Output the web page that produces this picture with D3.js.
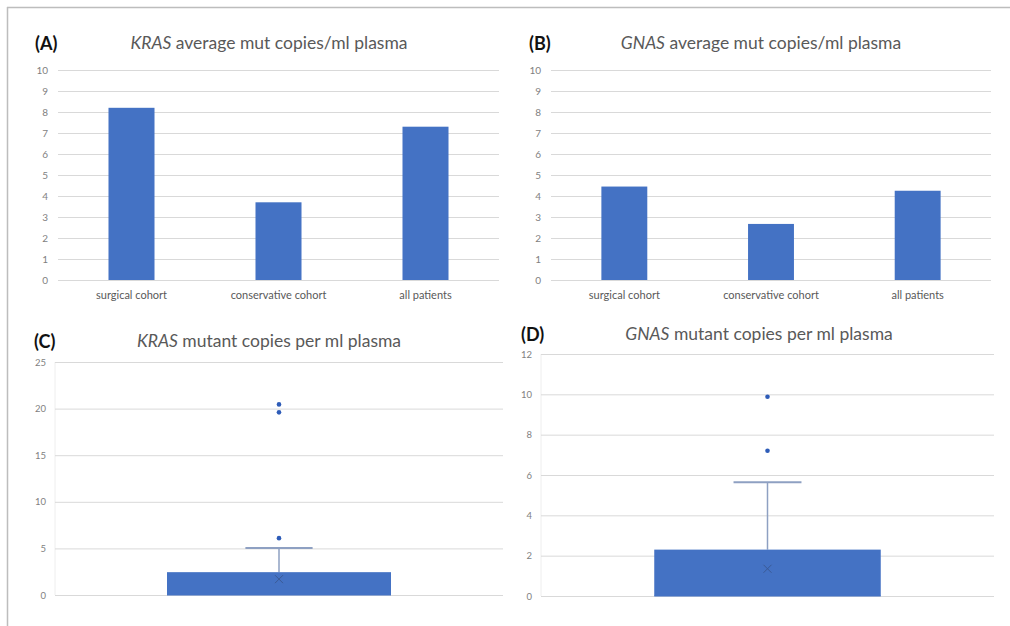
<!DOCTYPE html>
<html><head><meta charset="utf-8">
<script src="https://cdn.jsdelivr.net/npm/d3@7/dist/d3.min.js"></script>
<style>
html,body{margin:0;padding:0;background:#fff;}
svg{display:block;}
text{font-family:Lato,"Open Sans",sans-serif;}
</style></head><body>
<svg id="chart" width="1010" height="626"></svg>
<script>
// ---- data ----
const categories = ["surgical cohort", "conservative cohort", "all patients"];
const krasAverage = [8.2, 3.7, 7.3];
const gnasAverage = [4.45, 2.67, 4.25];
const barTicks = [0,1,2,3,4,5,6,7,8,9,10];

// box plots: [min, q1, median, q3, max whisker], mean, outliers
const krasBox = [0, 0, 0, 2.45, 5.05];
const krasMean = 1.7;
const krasOutliers = [6.1, 19.6, 20.45];
const krasTicks = [0,5,10,15,20,25];

const gnasBox = [0, 0, 0, 2.3, 5.64];
const gnasMean = 1.35;
const gnasOutliers = [7.2, 9.88];
const gnasTicks = [0,2,4,6,8,10,12];

const svg = d3.select("#chart");
const BLUE = "#4472c4";

// frame
svg.append("line").attr("x1",7).attr("x2",1010).attr("y1",7.5).attr("y2",7.5).attr("stroke","#bdbdbd").attr("stroke-width",1.5);
svg.append("line").attr("x1",7.5).attr("x2",7.5).attr("y1",7).attr("y2",626).attr("stroke","#bdbdbd").attr("stroke-width",1.5);

function panelTitle(lx, ly, letter, tx, gene, rest){
  svg.append("text").attr("x",lx).attr("y",ly).attr("font-size",18).attr("font-weight","bold")
     .attr("font-family","'Liberation Sans',Arial,sans-serif")
     .attr("fill","#111").text(letter);
  const t = svg.append("text").attr("x",tx).attr("y",ly-1).attr("text-anchor","middle")
     .attr("font-size",17.5).attr("fill","#595959");
  t.append("tspan").attr("font-style","italic").text(gene);
  t.append("tspan").text(" " + rest);
}

function barPanel(opt){
  const x = d3.scaleBand().domain(categories).range([opt.x0, opt.x1]).paddingInner(0.687).paddingOuter(0.3435);
  const y = d3.scaleLinear().domain([0,10]).range([opt.yb, opt.yt]);
  const g = svg.append("g");
  const ax = g.append("g").attr("transform",`translate(${opt.x0},0)`)
    .call(d3.axisLeft(y).tickValues(barTicks).tickSize(-(opt.x1-opt.x0)).tickPadding(10));
  ax.select(".domain").remove();
  ax.selectAll(".tick line").attr("stroke","#d9d9d9");
  ax.selectAll(".tick text").attr("fill","#7f7f7f").attr("font-size",10);
  g.selectAll("rect.bar").data(opt.values).join("rect").attr("class","bar")
    .attr("x",(d,i)=>x(categories[i])).attr("width",x.bandwidth())
    .attr("y",d=>y(d)).attr("height",d=>y(0)-y(d)).attr("fill",BLUE);
  const xa = g.append("g").attr("transform",`translate(0,${opt.yb})`)
    .call(d3.axisBottom(x).tickSize(0).tickPadding(11));
  xa.select(".domain").remove();
  xa.selectAll(".tick text").attr("fill","#595959").attr("font-size",11);
}

function boxPanel(opt){
  const x = d3.scaleBand().domain([""]).range([opt.x0, opt.x1]).paddingInner(0).paddingOuter(0.5);
  const y = d3.scaleLinear().domain([0, opt.max]).range([opt.yb, opt.yt]);
  const g = svg.append("g");
  const ax = g.append("g").attr("transform",`translate(${opt.x0},0)`)
    .call(d3.axisLeft(y).tickValues(opt.ticks).tickSize(-(opt.x1-opt.x0)).tickPadding(9));
  ax.select(".domain").attr("stroke","#eeeeee").attr("d",`M0,${opt.yt}V${opt.yb}`);
  ax.selectAll(".tick line").attr("stroke","#d9d9d9");
  ax.selectAll(".tick text").attr("fill","#7f7f7f").attr("font-size",9.5);
  const [mn,q1,med,q3,mx] = opt.box;
  const bx = x(""), bw = x.bandwidth(), cx = bx + bw/2;
  // whisker
  g.append("line").attr("x1",cx).attr("x2",cx).attr("y1",y(q3)).attr("y2",y(mx)).attr("stroke","#8ea0c2").attr("stroke-width",1.5);
  g.append("line").attr("x1",cx-bw*0.15).attr("x2",cx+bw*0.15).attr("y1",y(mx)).attr("y2",y(mx)).attr("stroke","#8ea0c2").attr("stroke-width",2);
  g.append("rect").attr("x",bx).attr("width",bw).attr("y",y(q3)).attr("height",y(q1)-y(q3)).attr("fill",BLUE);
  g.append("line").attr("x1",bx).attr("x2",bx+bw).attr("y1",y(med)).attr("y2",y(med)).attr("stroke",BLUE);
  // mean marker
  const my = y(opt.mean), s = 4;
  g.append("path").attr("d",`M${cx-s},${my-s}L${cx+s},${my+s}M${cx-s},${my+s}L${cx+s},${my-s}`)
    .attr("stroke","#3a5a96").attr("stroke-width",1);
  g.selectAll("circle.out").data(opt.outliers).join("circle").attr("class","out")
    .attr("cx",cx).attr("cy",d=>y(d)).attr("r",2.3).attr("fill","#2e5cb8");
}

panelTitle(35, 50, "(A)", 269, "KRAS", "average mut copies/ml plasma");
barPanel({x0:58, x1:499, yt:70, yb:280, values:krasAverage});

panelTitle(529, 50, "(B)", 761, "GNAS", "average mut copies/ml plasma");
barPanel({x0:551, x1:991, yt:70, yb:280, values:gnasAverage});

panelTitle(34, 348, "(C)", 269, "KRAS", "mutant copies per ml plasma");
boxPanel({x0:55, x1:503, yt:362, yb:595, max:25, ticks:krasTicks, box:krasBox, mean:krasMean, outliers:krasOutliers});

panelTitle(521, 341, "(D)", 759, "GNAS", "mutant copies per ml plasma");
boxPanel({x0:541, x1:994, yt:354, yb:596, max:12, ticks:gnasTicks, box:gnasBox, mean:gnasMean, outliers:gnasOutliers});
</script>
</body></html>
